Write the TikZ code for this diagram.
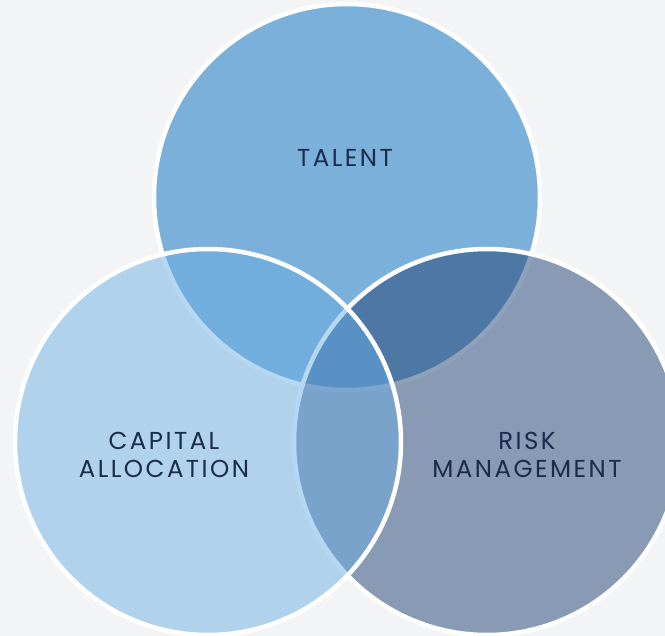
\documentclass[tikz,border=0pt]{standalone}
\usepackage{fontspec}
\newfontfamily\lblfont[LetterSpace=10]{Poppins}
\usetikzlibrary{positioning}
\definecolor{bgGray}{RGB}{243,244,246}
\definecolor{talentBlue}{RGB}{122,176,217}
\definecolor{riskNavy}{RGB}{33,66,116}
\definecolor{capitalBlue}{RGB}{104,173,229}
\definecolor{labelInk}{RGB}{26,44,76}
\begin{document}
\begin{tikzpicture}[x=1pt, y=-1pt,
  area/.style={circle, draw=white, line width=4.5pt, minimum size=386pt, inner sep=0pt},
  label text/.style={text=labelInk, font=\lblfont\fontsize{24.5}{28}\selectfont, align=center, inner sep=0pt}]
\fill[bgGray] (0,0) rectangle (665,636);
\useasboundingbox (0,0) rectangle (665,636);
\clip (0,0) rectangle (665,636);
% three overlapping areas
\node[area, fill=talentBlue] (talent) at (347,197) {};
\node[area, fill=riskNavy, fill opacity=0.5] (risk) at (487,442) {};
\node[area, fill=capitalBlue, fill opacity=0.48] (capital) at (208,442) {};
% labels
\node[label text, anchor=base] (talent label) at (345,167) {TALENT};
\node[label text] (capital label) at (164,455) {CAPITAL\\ALLOCATION};
\node[label text] (risk label) at (527,455) {RISK\\MANAGEMENT};
\end{tikzpicture}
\end{document}
